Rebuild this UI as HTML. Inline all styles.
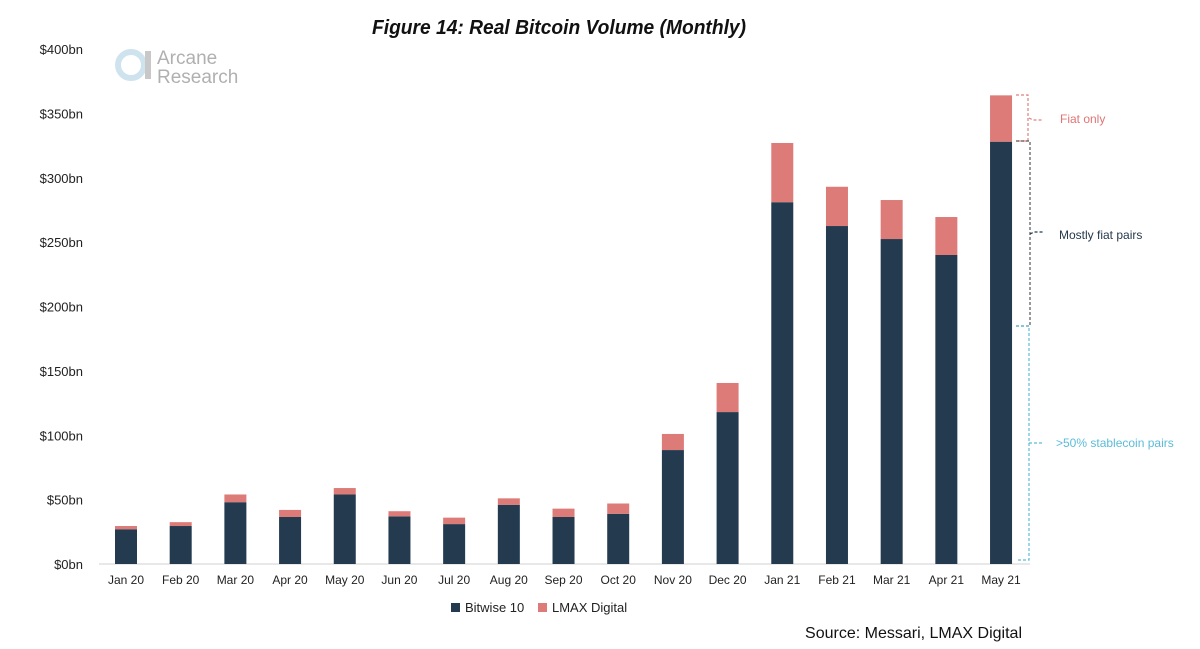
<!DOCTYPE html>
<html><head><meta charset="utf-8"><style>
body{margin:0;background:#fff;width:1200px;height:649px;overflow:hidden;font-family:"Liberation Sans",sans-serif}
svg{display:block}
</style></head><body>
<svg width="1200" height="649" id="c">
<text x="559" y="34" text-anchor="middle" font-size="20" font-style="italic" font-weight="bold" fill="#111" textLength="374" lengthAdjust="spacingAndGlyphs">Figure 14: Real Bitcoin Volume (Monthly)</text>
<g>
<circle cx="131" cy="65" r="13" fill="none" stroke="#cfe3ef" stroke-width="6"/>
<rect x="145" y="51" width="6" height="28" fill="#c8c8c8"/>
<text x="157" y="64" font-size="19" fill="#b0b0b0">Arcane</text>
<text x="157" y="83" font-size="19" fill="#b0b0b0">Research</text>
</g>
<g id="axes"></g>
<g id="bars"></g>
<g fill="none" stroke-dasharray="3,2" stroke-width="1.2">
<path d="M1016 95 H1028 V141 H1016" stroke="#e08080"/>
<path d="M1029 118 l4 2 H1043" stroke="#e08080"/>
<path d="M1016 141 H1030 V326 H1016" stroke="#555"/>
<path d="M1030 234 l4 -2 H1043" stroke="#24394d"/>
<path d="M1016 326 H1029 V560 H1016" stroke="#5bbcd8"/>
<path d="M1029 443 H1043" stroke="#5bbcd8"/>
</g>
<text x="1060" y="123" font-size="12" fill="#e07575">Fiat only</text>
<text x="1059" y="239" font-size="12" fill="#24394d">Mostly fiat pairs</text>
<text x="1056" y="447" font-size="12" fill="#5bbcd8">&gt;50% stablecoin pairs</text>
<g>
<rect x="451" y="603" width="9" height="9" fill="#243a4f"/>
<text x="465" y="612" font-size="13" fill="#222">Bitwise 10</text>
<rect x="538" y="603" width="9" height="9" fill="#dd7b78"/>
<text x="552" y="612" font-size="13" fill="#222">LMAX Digital</text>
</g>
<text x="1022" y="638" text-anchor="end" font-size="16" fill="#111">Source: Messari, LMAX Digital</text>
</svg>
<script>
const categories=["Jan 20","Feb 20","Mar 20","Apr 20","May 20","Jun 20","Jul 20","Aug 20","Sep 20","Oct 20","Nov 20","Dec 20","Jan 21","Feb 21","Mar 21","Apr 21","May 21"];
const bitwise=[27,29.5,48,36.5,54,37,31,46,36.5,39,88.5,118,281,262.5,252.4,240,328];
const lmax=[2.5,3,6,5.5,5,4,5,5,6.5,8,12.5,22.6,46,30.5,30.3,29.5,36];
const yTicks=[0,50,100,150,200,250,300,350,400];
const yTickLabels=["$0bn","$50bn","$100bn","$150bn","$200bn","$250bn","$300bn","$350bn","$400bn"];
const NS="http://www.w3.org/2000/svg";
const y=v=>564-v*515/400;
const x=i=>126+i*54.69;
const bw=22;
function mk(t,a,p){const e=document.createElementNS(NS,t);for(const k in a)e.setAttribute(k,a[k]);p.appendChild(e);return e;}
const ax=document.getElementById('axes'),bg=document.getElementById('bars');
yTicks.forEach((v,i)=>{
 const t=mk('text',{x:83,y:y(v)+5,'text-anchor':'end','font-size':13,fill:'#222'},ax);
 
 
 t.textContent=yTickLabels[i];
});
const base=mk('line',{x1:99,x2:1030,y1:564,y2:564,stroke:'#d0d0d0'},ax);


categories.forEach((c,i)=>{
 const t=mk('text',{x:x(i),y:584,'text-anchor':'middle','font-size':12,fill:'#222'},ax);
 
 
 t.textContent=c;
 const b=mk('rect',{x:x(i)-bw/2,y:y(bitwise[i]),width:bw,height:y(0)-y(bitwise[i]),fill:'#243a4f'},bg);
 
 
 const l=mk('rect',{x:x(i)-bw/2,y:y(bitwise[i]+lmax[i]),width:bw,height:y(bitwise[i])-y(bitwise[i]+lmax[i]),fill:'#dd7b78'},bg);
 
 
});
</script>
</body></html>
